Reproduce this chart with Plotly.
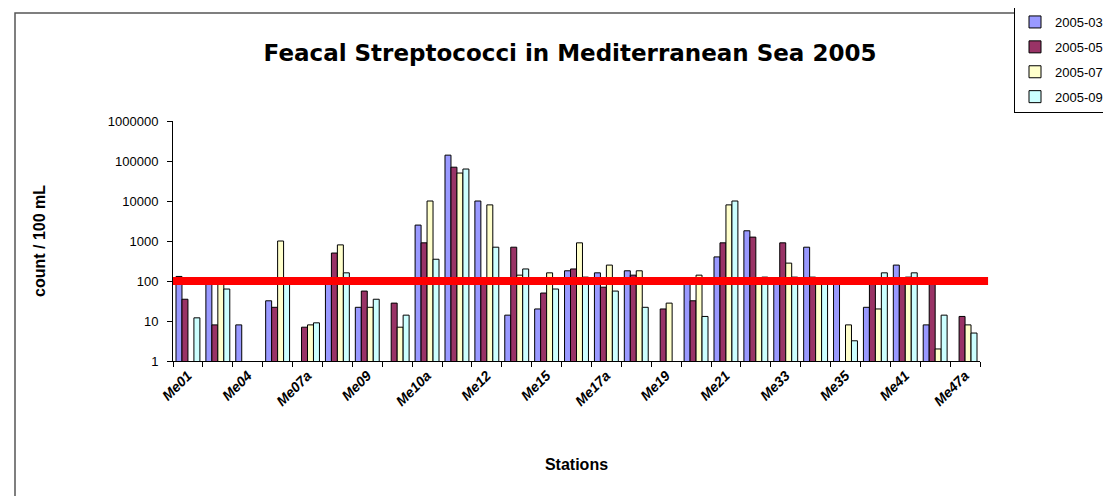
import plotly.graph_objects as go

# ---- data ----
STATIONS = ["Me01", "Me02", "Me04", "Me07", "Me07a", "Me08", "Me09", "Me10", "Me10a",
            "Me11", "Me12", "Me13", "Me15", "Me17", "Me17a", "Me18", "Me19", "Me20",
            "Me21", "Me22", "Me33", "Me34", "Me35", "Me36", "Me41", "Me42", "Me47a"]
LABELED = ["Me01", "Me04", "Me07a", "Me09", "Me10a", "Me12", "Me15", "Me17a", "Me19",
           "Me21", "Me33", "Me35", "Me41", "Me47a"]
SERIES_NAMES = ["2005-03", "2005-05", "2005-07", "2005-09"]

MAR_2005 = [130, 95, 8, 32, None, 95, 22, None, 2500, 140000, 10000, 14, 20, 180,
            160, 180, None, 95, 400, 1800, 95, 700, 95, 22, 250, 8, None]
MAY_2005 = [35, 8, None, 22, 7, 500, 56, 28, 900, 70000, 95, 700, 50, 200,
            70, 140, 20, 32, 900, 1250, 900, 125, None, 95, 120, 95, 13]
JUL_2005 = [None, 95, None, 1000, 8, 800, 22, 7, 10000, 50000, 8000, 140, 160, 900,
            250, 180, 28, 140, 8000, 95, 280, 95, 8, 20, 125, 2, 8]
SEP_2005 = [12, 63, None, 90, 9, 160, 35, 14, 350, 63000, 700, 200, 63, 125,
            56, 22, None, 13, 10000, 125, 125, 95, 3.2, 160, 160, 14, 5]

THRESHOLD = 100
Y_TICKS = [1, 10, 100, 1000, 10000, 100000, 1000000]

# ---- styling ----
COLORS = ["#9999FF", "#993366", "#FFFFCC", "#CCFFFF"]
FONT = "Liberation Sans, Arial, sans-serif"

W, H = 1111, 496
L, R, T, B = 165, 139, 113, 143
PW, PH = W - L - R, H - T - B


def px_to_paper_x(px):
    return (px - L) / PW


def px_to_paper_y(py):
    return (H - B - py) / PH


fig = go.Figure()
for name, vals, col in zip(SERIES_NAMES, [MAR_2005, MAY_2005, JUL_2005, SEP_2005], COLORS):
    fig.add_trace(go.Bar(
        x=STATIONS, y=vals, name=name, legendgroup=name,
        marker=dict(color=col, line=dict(color="black", width=1)),
    ))

fig.add_shape(type="line", xref="paper", yref="y", x0=0, x1=1.01,
              y0=THRESHOLD, y1=THRESHOLD, line=dict(color="#FF0000", width=8),
              layer="above")

# outer chart frame
fig.add_shape(type="rect", xref="paper", yref="paper",
              x0=px_to_paper_x(7), x1=px_to_paper_x(1125),
              y0=px_to_paper_y(489), y1=px_to_paper_y(5),
              line=dict(color="#555555", width=1.5), fillcolor="rgba(0,0,0,0)",
              layer="below")

fig.update_layout(
    width=W, height=H,
    margin=dict(l=L, r=R, t=T, b=B, autoexpand=False),
    paper_bgcolor="white", plot_bgcolor="white",
    barmode="group", bargap=0.2, bargroupgap=0,
    font=dict(family=FONT, color="black"),
    title=dict(text="<b>Feacal Streptococci in Mediterranean Sea 2005</b>",
               x=px_to_paper_x(562), xref="paper", xanchor="center",
               y=1 - 45 / H, yref="container", yanchor="middle",
               font=dict(size=23, family="DejaVu Sans, sans-serif")),
    legend=dict(x=px_to_paper_x(1006), y=px_to_paper_y(-2), xanchor="left", yanchor="top",
                bordercolor="black", borderwidth=1, bgcolor="white",
                font=dict(size=13, family=FONT), tracegroupgap=5,
                itemwidth=30),
    xaxis=dict(type="category", tickmode="array", tickvals=STATIONS,
               ticktext=[s if s in LABELED else "" for s in STATIONS],
               tickangle=-45, ticks="outside", tickson="boundaries", ticklen=5,
               tickcolor="black", showline=True, linecolor="black", linewidth=1,
               showgrid=False, tickfont=dict(size=14, family=FONT, weight="bold", style="italic"),
               title=dict(text="<b>Stations</b>", font=dict(size=16, family=FONT), standoff=50),
               automargin=False),
    yaxis=dict(type="log", range=[0, 6], tickmode="array", tickvals=Y_TICKS,
               ticktext=[str(v) for v in Y_TICKS], ticks="outside", ticklen=5,
               tickcolor="black", showline=True, linecolor="black", linewidth=1,
               showgrid=False, zeroline=False, tickfont=dict(size=13, family=FONT),
               ticklabelstandoff=6,
               title=dict(text="<b>count / 100 mL</b>", font=dict(size=16, family=FONT), standoff=58),
               automargin=False),
)

fig.write_html("out.html")
